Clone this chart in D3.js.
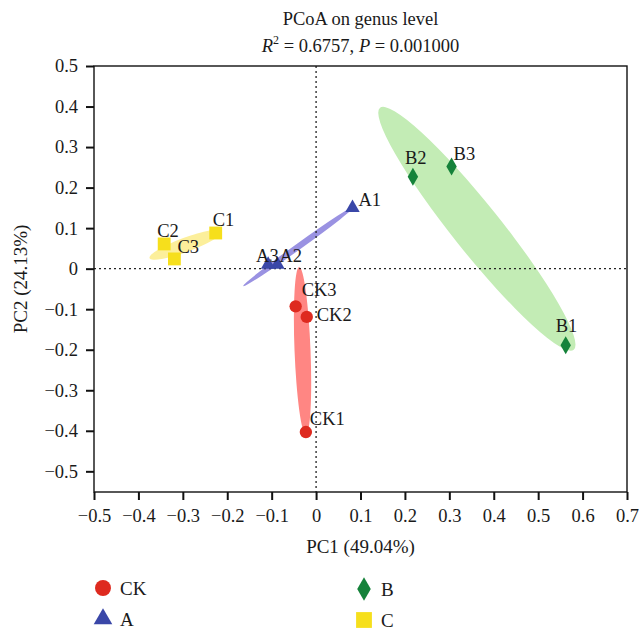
<!DOCTYPE html>
<html>
<head>
<meta charset="utf-8">
<script src="https://cdn.jsdelivr.net/npm/d3@7/dist/d3.min.js"></script>
<style>
  html, body { margin: 0; padding: 0; background: #fff; }
  svg { display: block; }
</style>
</head>
<body>
<svg id="chart" width="639" height="633"></svg>
<script>
// PCoA on genus level — sample scores, group ellipses, legend
const samples = ["CK1", "CK2", "CK3", "A1", "A2", "A3", "B1", "B2", "B3", "C1", "C2", "C3"];
const sampleGroup = ["CK", "CK", "CK", "A", "A", "A", "B", "B", "B", "C", "C", "C"];
const pc1 = [-0.023, -0.021, -0.046, 0.082, -0.087, -0.108, 0.562, 0.218, 0.305, -0.226, -0.342, -0.319];
const pc2 = [-0.403, -0.119, -0.093, 0.150, 0.010, 0.010, -0.189, 0.227, 0.252, 0.088, 0.061, 0.024];

const groups = ["CK", "A", "B", "C"];
// ellipse: ends of the long axis (PC1, PC2) and half-width in PC1 units
const ellEnd1 = [[-0.038, 0.004], [-0.164, -0.043], [0.144, 0.397], [-0.375, 0.026]];
const ellEnd2 = [[-0.023, -0.409], [0.088, 0.155], [0.580, -0.200], [-0.212, 0.092]];
const ellHalfW = [0.018, 0.007, 0.054, 0.016];

const xTicks = [-0.5, -0.4, -0.3, -0.2, -0.1, 0, 0.1, 0.2, 0.3, 0.4, 0.5, 0.6, 0.7];
const yTicks = [0.5, 0.4, 0.3, 0.2, 0.1, 0, -0.1, -0.2, -0.3, -0.4, -0.5];

const PT = { CK: "#de2a1f", A: "#3a47a8", B: "#15823a", C: "#f6df1c" };
const FILL = { CK: "#ff8683", A: "#9a92e2", B: "#c3ecb5", C: "#fcef9b" };
const SHAPE = { CK: d3.symbolCircle, A: d3.symbolTriangle, B: d3.symbolDiamond, C: d3.symbolSquare };
const SIZE = { CK: 120, A: 90, B: 94, C: 165 };
const LSIZE = { CK: 200, A: 150, B: 160, C: 250 };
// label nudges (px) relative to the marker
const LAB = {
  CK1: [4, -7], CK2: [10, 4], CK3: [6, -10], A1: [6, -2], A2: [2, -3], A3: [-12, -3],
  B1: [-10, -13], B2: [-8, -13], B3: [2, -7], C1: [-3, -7], C2: [-7, -7], C3: [3, -6]
};

const FONT = "'Liberation Serif', 'Times New Roman', serif";
const ML = 94, MR = 627, MT = 66, MB = 492;
const x = d3.scaleLinear().domain([-0.5, 0.7]).range([ML, MR]);
const y = d3.scaleLinear().domain([0.5, -0.551]).range([MT, MB]);

const svg = d3.select("#chart");

// ellipses
groups.forEach((g, i) => {
  const ax = x(ellEnd1[i][0]), ay = y(ellEnd1[i][1]);
  const bx = x(ellEnd2[i][0]), by = y(ellEnd2[i][1]);
  const cx = (ax + bx) / 2, cy = (ay + by) / 2;
  const rx = Math.hypot(bx - ax, by - ay) / 2;
  const ry = x(ellHalfW[i]) - x(0);
  const ang = Math.atan2(by - ay, bx - ax) * 180 / Math.PI;
  svg.append("ellipse")
    .attr("cx", cx).attr("cy", cy).attr("rx", rx).attr("ry", ry)
    .attr("transform", `rotate(${ang} ${cx} ${cy})`)
    .attr("fill", FILL[g]);
});

// zero reference lines
svg.append("line")
  .attr("x1", x(0)).attr("x2", x(0)).attr("y1", MT).attr("y2", MB)
  .attr("stroke", "#222").attr("stroke-width", 1.3).attr("stroke-dasharray", "2 3");
svg.append("line")
  .attr("x1", ML).attr("x2", MR).attr("y1", y(0)).attr("y2", y(0))
  .attr("stroke", "#222").attr("stroke-width", 1.3).attr("stroke-dasharray", "2 3");

// frame
svg.append("rect")
  .attr("x", ML).attr("y", MT).attr("width", MR - ML).attr("height", MB - MT)
  .attr("fill", "none").attr("stroke", "#111").attr("stroke-width", 1.4);

// axes
const fmt = v => v === 0 ? "0" : d3.format(".1f")(v).replace("-", "\u2212");
const xAxis = svg.append("g").attr("transform", `translate(0,${MB})`)
  .call(d3.axisBottom(x).tickValues(xTicks).tickSize(8).tickPadding(6).tickFormat(fmt));
const yAxis = svg.append("g").attr("transform", `translate(${ML},0)`)
  .call(d3.axisLeft(y).tickValues(yTicks).tickSize(8).tickPadding(8).tickFormat(fmt));
[xAxis, yAxis].forEach(a => {
  a.select(".domain").remove();
  a.selectAll(".tick line").attr("stroke", "#111").attr("stroke-width", 2);
  a.selectAll(".tick text").attr("fill", "#1a1a1a")
    .style("font-family", FONT).style("font-size", "18.5px");
});
xAxis.selectAll(".tick text").attr("dy", "0.85em");

// points and labels
samples.forEach((s, i) => {
  const g = sampleGroup[i];
  const px = x(pc1[i]), py = y(pc2[i]);
  svg.append("path")
    .attr("d", d3.symbol().type(SHAPE[g]).size(SIZE[g])())
    .attr("transform", `translate(${px},${py})`)
    .attr("fill", PT[g]);
  svg.append("text")
    .attr("x", px + LAB[s][0]).attr("y", py + LAB[s][1])
    .style("font-family", FONT).style("font-size", "18.5px").attr("fill", "#1a1a1a")
    .text(s);
});

// titles
svg.append("text").attr("x", (ML + MR) / 2).attr("y", 25).attr("text-anchor", "middle")
  .style("font-family", FONT).style("font-size", "18.5px").attr("fill", "#1a1a1a")
  .text("PCoA on genus level");
const sub = svg.append("text").attr("x", (ML + MR) / 2).attr("y", 52).attr("text-anchor", "middle")
  .style("font-family", FONT).style("font-size", "18.5px").attr("fill", "#1a1a1a");
sub.append("tspan").attr("font-style", "italic").text("R");
sub.append("tspan").attr("dy", -8).attr("font-size", "12px").text("2");
sub.append("tspan").attr("dy", 8).text(" = 0.6757, ");
sub.append("tspan").attr("font-style", "italic").text("P");
sub.append("tspan").text(" = 0.001000");

svg.append("text").attr("x", (ML + MR) / 2).attr("y", 553).attr("text-anchor", "middle")
  .style("font-family", FONT).style("font-size", "19px").attr("fill", "#1a1a1a")
  .text("PC1 (49.04%)");
svg.append("text").attr("transform", `translate(27,${(MT + MB) / 2}) rotate(-90)`)
  .attr("text-anchor", "middle")
  .style("font-family", FONT).style("font-size", "19px").attr("fill", "#1a1a1a")
  .text("PC2 (24.13%)");

// legend (two columns)
const legX = [103, 364, 103, 364];
const legOrder = ["CK", "B", "A", "C"];
const legY = [588, 589, 619, 620];
legOrder.forEach((g, i) => {
  svg.append("path")
    .attr("d", d3.symbol().type(SHAPE[g]).size(LSIZE[g])())
    .attr("transform", `translate(${legX[i]},${legY[i]})`)
    .attr("fill", PT[g]);
  svg.append("text").attr("x", legX[i] + 17).attr("y", legY[i] + 7)
    .style("font-family", FONT).style("font-size", "19px").attr("fill", "#1a1a1a")
    .text(g);
});
</script>
</body>
</html>
